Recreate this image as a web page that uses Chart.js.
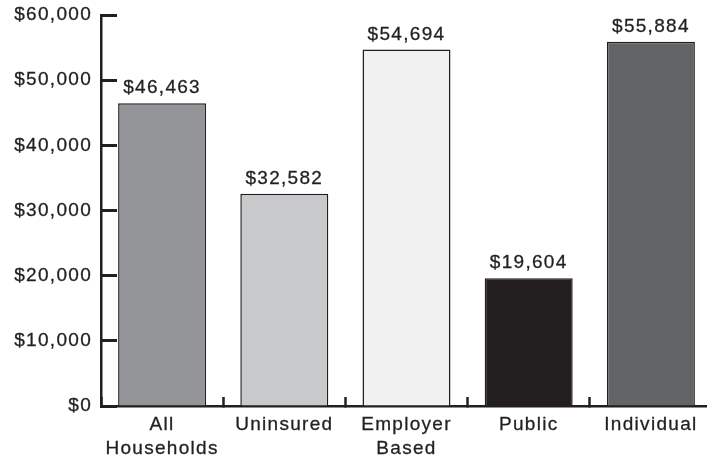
<!DOCTYPE html>
<html>
<head>
<meta charset="utf-8">
<script src="https://cdn.jsdelivr.net/npm/chart.js@4"></script>
<style>
    html, body { margin: 0; padding: 0; background: #fff; overflow: hidden; }
    #wrap { width: 712px; height: 462px; }
</style>
</head>
<body>
<div id="wrap"><canvas id="incomeChart"></canvas></div>
<script>
// Median household income by type of coverage
const categories = [['All', 'Households'], 'Uninsured', ['Employer', 'Based'], 'Public', 'Individual'];
const incomes = [46463, 32582, 54694, 19604, 55884];
const barColors = ['#939598', '#c8c9cb', '#f1f1f2', '#231f20', '#636466'];
const yTicks = [0, 10000, 20000, 30000, 40000, 50000, 60000];

const ink = '#231f20';
const fontFamily = '"Liberation Sans", Arial, sans-serif';
const spacing = '1.3px';
const heft = 0.3; // thin outline so the type reads a little heavier
const money = v => '$' + v.toLocaleString('en-US');

// letter spacing is part of the canvas state, so set it before every draw
const tracking = {
    id: 'tracking',
    beforeDraw(chart) {
        chart.ctx.letterSpacing = spacing;
    }
};

// dollar amount above each bar
const valueLabels = {
    id: 'valueLabels',
    afterDatasetsDraw(chart) {
        const ctx = chart.ctx;
        const meta = chart.getDatasetMeta(0);
        ctx.save();
        ctx.letterSpacing = spacing;
        ctx.font = '19px ' + fontFamily;
        ctx.fillStyle = ink;
        ctx.strokeStyle = ink;
        ctx.lineWidth = heft;
        ctx.textAlign = 'center';
        ctx.textBaseline = 'alphabetic';
        meta.data.forEach((bar, i) => {
            const txt = money(incomes[i]);
            ctx.strokeText(txt, bar.x, bar.y - 10);
            ctx.fillText(txt, bar.x, bar.y - 10);
        });
        ctx.restore();
    }
};

new Chart(document.getElementById('incomeChart'), {
    type: 'bar',
    data: {
        labels: categories,
        datasets: [{
            data: incomes,
            backgroundColor: barColors,
            borderColor: ink,
            borderWidth: 1.5,
            categoryPercentage: 1,
            barPercentage: 0.72
        }]
    },
    options: {
        responsive: true,
        maintainAspectRatio: false,
        animation: false,
        layout: { padding: 0 },
        plugins: {
            legend: { display: false },
            tooltip: { enabled: false }
        },
        scales: {
            x: {
                offset: true,
                afterFit: s => { s.height = 56; },
                border: { color: ink, width: 2.5 },
                grid: {
                    offset: true,
                    drawOnChartArea: false,
                    tickLength: -9,
                    tickColor: ink,
                    tickWidth: 2.5
                },
                ticks: {
                    color: ink,
                    padding: 16,
                    textStrokeColor: ink,
                    textStrokeWidth: heft,
                    font: { family: fontFamily, size: 19, lineHeight: 1.27 }
                }
            },
            y: {
                min: 0,
                max: 60000,
                // the label padding would otherwise push the plot down
                afterFit: s => {
                    s.width = 101;
                    s.paddingTop = 15;
                    s.paddingBottom = 0;
                },
                afterBuildTicks: s => { s.ticks = yTicks.map(v => ({ value: v })); },
                border: { color: ink, width: 2.5 },
                grid: {
                    drawOnChartArea: false,
                    tickLength: -16,
                    tickColor: ink,
                    tickWidth: 3
                },
                ticks: {
                    color: ink,
                    padding: 25,
                    textStrokeColor: ink,
                    textStrokeWidth: heft,
                    font: { family: fontFamily, size: 19 },
                    callback: v => money(v)
                }
            }
        }
    },
    plugins: [tracking, valueLabels]
});
</script>
</body>
</html>
